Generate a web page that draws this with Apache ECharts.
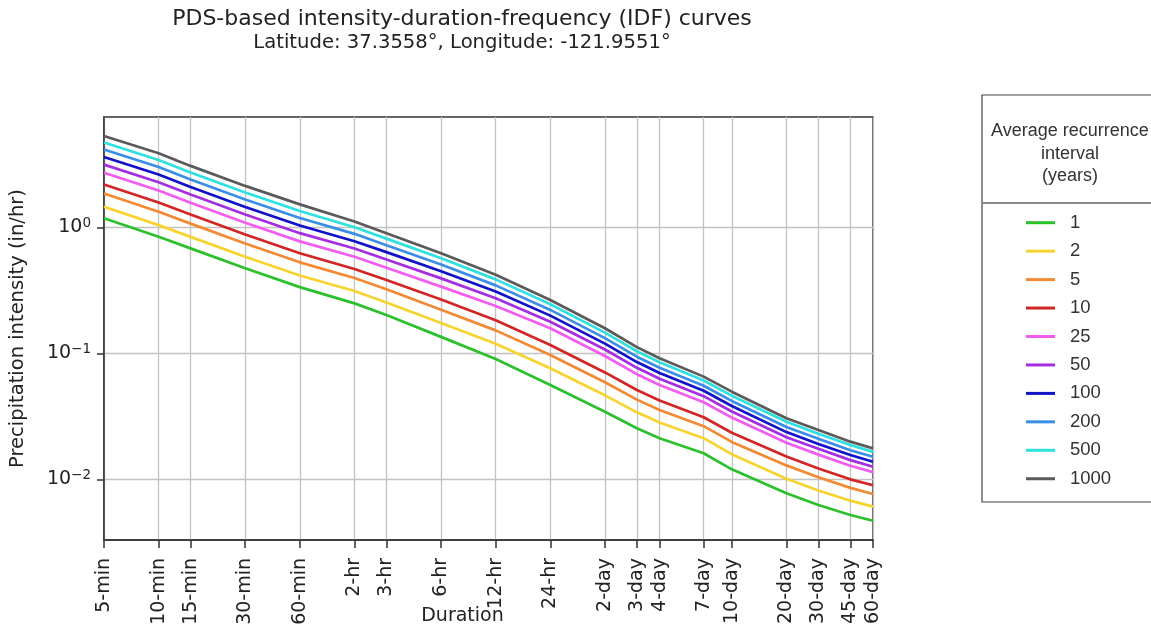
<!DOCTYPE html>
<html>
<head>
<meta charset="utf-8">
<title>PDS-based IDF curves</title>
<script src="https://cdn.jsdelivr.net/npm/echarts@6.0.0/dist/echarts.min.js"></script>
<style>
html,body{margin:0;padding:0;background:#fff;}
#main{width:1151px;height:628px;}
</style>
</head>
<body>
<div id="main"></div>
<script>
// durations in minutes + the tick labels
var durMin = [5, 10, 15, 30, 60, 120, 180, 360, 720, 1440, 2880, 4320, 5760, 10080, 14400, 28800, 43200, 64800, 86400];
var durLabels = ['5-min', '10-min', '15-min', '30-min', '60-min', '2-hr', '3-hr', '6-hr', '12-hr', '24-hr',
    '2-day', '3-day', '4-day', '7-day', '10-day', '20-day', '30-day', '45-day', '60-day'];

// intensity (in/hr) per average recurrence interval
var ari1    = [1.18, 0.84, 0.68, 0.473, 0.335, 0.249, 0.201, 0.135, 0.090, 0.056, 0.0344, 0.0254, 0.0212, 0.0161, 0.0120, 0.00774, 0.00625, 0.00521, 0.00469];
var ari2    = [1.456, 1.040, 0.839, 0.584, 0.414, 0.312, 0.253, 0.174, 0.119, 0.0760, 0.0464, 0.0340, 0.0282, 0.0212, 0.0158, 0.0101, 0.00815, 0.00677, 0.00607];
var ari5    = [1.852, 1.328, 1.069, 0.743, 0.527, 0.396, 0.322, 0.222, 0.152, 0.0969, 0.0589, 0.0429, 0.0355, 0.0264, 0.0198, 0.0129, 0.0104, 0.00855, 0.00765];
var ari10   = [2.185, 1.571, 1.261, 0.876, 0.623, 0.466, 0.382, 0.267, 0.183, 0.1165, 0.0705, 0.0511, 0.0422, 0.0311, 0.0234, 0.0152, 0.0122, 0.0100, 0.00897];
var ari25   = [2.709, 1.955, 1.565, 1.087, 0.773, 0.584, 0.478, 0.338, 0.2375, 0.158, 0.0951, 0.0683, 0.0561, 0.0409, 0.0309, 0.0195, 0.0157, 0.0128, 0.0114];
var ari50   = [3.143, 2.274, 1.817, 1.262, 0.898, 0.678, 0.555, 0.393, 0.273, 0.178, 0.1071, 0.0767, 0.0629, 0.0457, 0.0345, 0.0216, 0.0175, 0.0142, 0.0126];
var ari100  = [3.614, 2.621, 2.090, 1.451, 1.033, 0.775, 0.635, 0.448, 0.309, 0.199, 0.1194, 0.0852, 0.0698, 0.0505, 0.0382, 0.0237, 0.0191, 0.0156, 0.0138];
var ari200  = [4.137, 3.008, 2.394, 1.662, 1.184, 0.887, 0.721, 0.506, 0.346, 0.221, 0.132, 0.094, 0.0769, 0.0553, 0.0419, 0.0260, 0.0210, 0.0170, 0.0151];
var ari500  = [4.70, 3.424, 2.721, 1.888, 1.347, 1.000, 0.813, 0.568, 0.386, 0.245, 0.146, 0.1038, 0.0848, 0.0608, 0.0461, 0.0286, 0.0230, 0.0187, 0.0165];
var ari1000 = [5.3, 3.87, 3.07, 2.13, 1.52, 1.11, 0.896, 0.622, 0.42, 0.265, 0.158, 0.112, 0.0913, 0.0653, 0.0496, 0.0305, 0.0246, 0.0199, 0.0176];

var ariNames  = ['1', '2', '5', '10', '25', '50', '100', '200', '500', '1000'];
var ariValues = [ari1, ari2, ari5, ari10, ari25, ari50, ari100, ari200, ari500, ari1000];
var ariColors = ['#2cc02c', '#f7d330', '#f28a35', '#d42525', '#f25cf0', '#a42ee0', '#1212c8', '#3a8ee8', '#2ee0e0', '#5a5a5a'];

var yTicks = [0.01, 0.1, 1];
var yTickExp = ['\u22122', '\u22121', '0'];

var font = 'DejaVu Sans';

function nearestIdx(arr, v) {
    var best = 0, bd = Infinity;
    for (var i = 0; i < arr.length; i++) {
        var d = Math.abs(Math.log(arr[i]) - Math.log(v));
        if (d < bd) { bd = d; best = i; }
    }
    return best;
}

var series = [];
for (var k = 0; k < ariNames.length; k++) {
    series.push({
        name: ariNames[k],
        type: 'line',
        symbol: 'none',
        showSymbol: false,
        color: ariColors[k],
        lineStyle: {width: 2.7, color: ariColors[k]},
        data: durMin.map(function (d, i) { return [d, ariValues[k][i]]; }),
        animation: false
    });
}

var chart = echarts.init(document.getElementById('main'));
var option = {
    backgroundColor: '#fff',
    animation: false,
    title: {
        text: 'PDS-based intensity-duration-frequency (IDF) curves',
        subtext: 'Latitude: 37.3558°, Longitude: -121.9551°',
        left: 462,
        top: 8,
        padding: 0,
        textAlign: 'center',
        itemGap: 3,
        textStyle: {fontFamily: font, fontSize: 22, fontWeight: 'normal', color: '#222'},
        subtextStyle: {fontFamily: font, fontSize: 19.6, color: '#222'}
    },
    grid: {
        left: 104, right: 278, top: 117, bottom: 88,
        outerBoundsMode: 'none',
        containLabel: false,
        show: true, borderColor: '#333', borderWidth: 1.5
    },
    legend: {
        orient: 'vertical',
        left: 1026,
        top: 212.7,
        padding: 0,
        icon: 'rect',
        itemWidth: 29,
        itemHeight: 3,
        itemGap: 8.45,
        data: ariNames,
        textStyle: {fontFamily: 'Liberation Sans', fontSize: 18.5, color: '#333', lineHeight: 20, padding: [0, 0, 0, 10]}
    },
    xAxis: {
        type: 'log',
        logBase: 10,
        min: 5,
        max: 86400,
        name: 'Duration',
        nameLocation: 'middle',
        nameGap: 67,
        nameMoveOverlap: false,
        nameTextStyle: {fontFamily: font, fontSize: 19, color: '#222', padding: [0, 52, 0, 0]},
        axisLine: {show: true, lineStyle: {color: '#333', width: 1.5}},
        axisTick: {show: true, inside: false, length: 8, customValues: durMin, lineStyle: {color: '#333', width: 1.5}},
        axisLabel: {
            customValues: durMin,
            rotate: 90,
            margin: 18,
            fontFamily: font,
            fontSize: 19,
            color: '#222',
            formatter: function (v) { return durLabels[nearestIdx(durMin, v)]; }
        },
        splitLine: {show: true, lineStyle: {color: '#c2c2c2', width: 1.3}},
        minorTick: {show: false},
        minorSplitLine: {show: false}
    },
    yAxis: {
        type: 'log',
        logBase: 10,
        min: 0.0033,
        max: 7.5,
        name: 'Precipitation intensity (in/hr)',
        nameLocation: 'middle',
        nameRotate: 90,
        nameGap: 76,
        nameMoveOverlap: false,
        nameTextStyle: {fontFamily: font, fontSize: 19.5, color: '#222'},
        axisLine: {show: true, lineStyle: {color: '#333', width: 1.5}},
        axisTick: {show: true, inside: false, length: 7, customValues: yTicks, lineStyle: {color: '#333', width: 1.5}},
        axisLabel: {
            customValues: yTicks,
            margin: 13,
            color: '#222',
            formatter: function (v) { return '{b|10}{s|' + yTickExp[nearestIdx(yTicks, v)] + '}'; },
            rich: {
                b: {fontFamily: font, fontSize: 19, lineHeight: 22, color: '#222'},
                s: {fontFamily: font, fontSize: 13.5, lineHeight: 13, verticalAlign: 'top', color: '#222'}
            }
        },
        splitLine: {show: true, lineStyle: {color: '#c2c2c2', width: 1.3}},
        minorTick: {show: false},
        minorSplitLine: {show: false}
    },
    graphic: [
        {
            type: 'rect',
            shape: {x: 982, y: 95, width: 200, height: 407},
            style: {fill: 'none', stroke: '#444', lineWidth: 1.2},
            silent: true
        },
        {
            type: 'line',
            shape: {x1: 982, y1: 203, x2: 1151, y2: 203},
            style: {stroke: '#888', lineWidth: 2},
            silent: true
        },
        {
            type: 'text',
            style: {
                text: 'Average recurrence\ninterval\n(years)',
                x: 1070, y: 120,
                align: 'center',
                verticalAlign: 'top',
                lineHeight: 22.5,
                font: '18px "Liberation Sans"',
                fill: '#333'
            },
            silent: true
        }
    ],
    series: series
};
chart.setOption(option);
</script>
</body>
</html>
